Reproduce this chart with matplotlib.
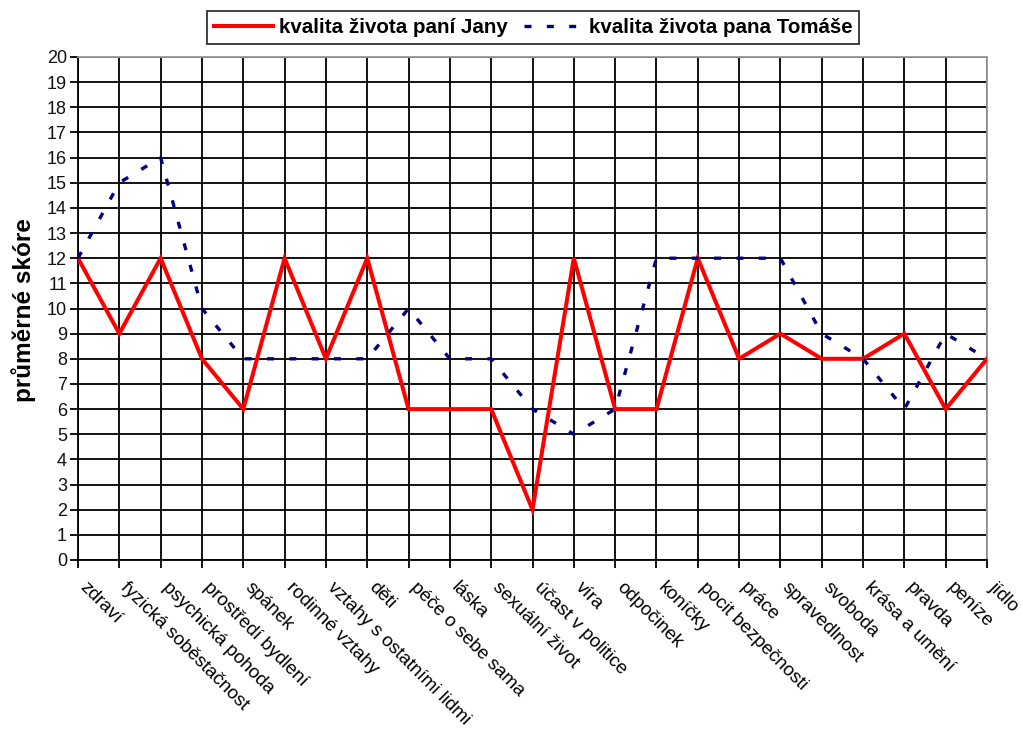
import matplotlib
matplotlib.use("Agg")
import matplotlib.pyplot as plt
from matplotlib.lines import Line2D
import numpy as np

categories = ["zdraví", "fyzická soběstačnost", "psychická pohoda", "prostředí bydlení",
              "spánek", "rodinné vztahy", "vztahy s ostatními lidmi", "děti",
              "péče o sebe sama", "láska", "sexuální život", "účast v politice", "víra",
              "odpočinek", "koníčky", "pocit bezpečnosti", "práce", "spravedlnost",
              "svoboda", "krása a umění", "pravda", "peníze", "jídlo"]
jana = [12, 9, 12, 8, 6, 12, 8, 12, 6, 6, 6, 2, 12, 6, 6, 12, 8, 9, 8, 8, 9, 6, 8]
tomas = [12, 15, 16, 10, 8, 8, 8, 8, 10, 8, 8, 6, 5, 6, 12, 12, 12, 12, 9, 8, 6, 9, 8]
yticks = list(range(0, 21))
series_names = ['kvalita života paní Jany', 'kvalita života pana Tomáše']

plt.rcParams['font.family'] = ['Liberation Sans', 'DejaVu Sans']

fig = plt.figure(figsize=(10.23, 7.35), dpi=100)
ax = fig.add_axes([78/1023, 1-560/735, (987-78)/1023, (560-57)/735])

x = np.arange(len(categories))
dash = (0, (2.1, 4.6))

ax.plot(x, jana, color='#FF0000', lw=2.9, solid_joinstyle='miter', zorder=3)
ax.plot(x, tomas, color='#000080', lw=2.4, linestyle=dash, dash_capstyle='butt', zorder=4)

ax.set_xlim(0, len(categories) - 1)
ax.set_ylim(0, 20)
ax.set_yticks(yticks)
ax.set_yticklabels([str(v) for v in yticks], fontsize=13)
ax.set_xticks(x)
ax.set_xticklabels([])
ax.grid(True, color='black', lw=1.3)
ax.set_axisbelow(True)
for s in ['top', 'right']:
    ax.spines[s].set_color('#999999')
    ax.spines[s].set_linewidth(1.3)
for s in ['left', 'bottom']:
    ax.spines[s].set_color('black')
    ax.spines[s].set_linewidth(1.3)
ax.tick_params(axis='both', direction='out', length=6, width=1.3, color='black')
ax.tick_params(axis='y', pad=2, labelcolor='#111111')

for xi, lab in zip(x, categories):
    ax.annotate(lab, xy=(xi, 0), xycoords='data', xytext=(3, -18),
                textcoords='offset points', rotation=-45, rotation_mode='anchor',
                ha='left', va='center', fontsize=13.6)

fig.text(24/1023, 1-310/735, 'průměrné skóre', rotation=90, ha='center', va='center',
         fontsize=17.5, fontweight='bold')

handles = [Line2D([], [], color='#FF0000', lw=2.9),
           Line2D([], [], color='#000080', lw=2.4, linestyle=dash, dash_capstyle='butt')]
leg = fig.legend(handles, series_names,
                 loc='center', bbox_to_anchor=(533/1023, 1-27.5/735), ncol=2,
                 frameon=True, fancybox=False, edgecolor='black',
                 prop={'weight': 'bold', 'size': 14.8}, handlelength=2.9,
                 columnspacing=0.8, handletextpad=0.25, borderpad=0.35)
leg.get_frame().set_linewidth(1.3)

fig.savefig('out.png', dpi=100)
